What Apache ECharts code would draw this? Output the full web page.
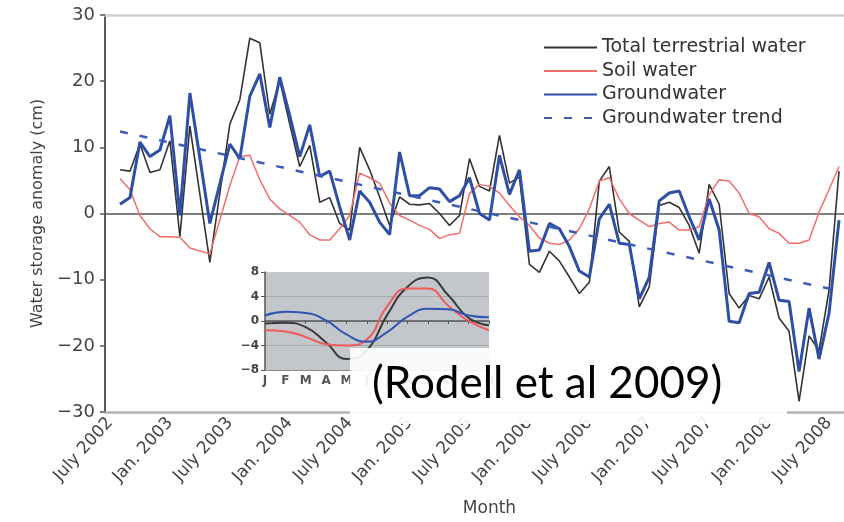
<!DOCTYPE html>
<html>
<head>
<meta charset="utf-8">
<title>Water storage anomaly</title>
<script src="https://cdn.jsdelivr.net/npm/echarts@6/dist/echarts.min.js"></script>
<style>
html, body { margin: 0; padding: 0; background: #fff; }
#main { width: 844px; height: 522px; }
</style>
</head>
<body>
<div id="main"></div>
<script>
// months July 2002 .. Aug 2008 (one band per month)
var monthAbbr = ['Jan','Feb','Mar','Apr','May','Jun','Jul','Aug','Sep','Oct','Nov','Dec'];
var months = [];
for (var yr = 2002; yr <= 2008; yr++) {
    for (var k = 0; k < 12; k++) {
        if ((yr === 2002 && k < 6) || (yr === 2008 && k > 7)) continue;
        months.push(monthAbbr[k] + ' ' + yr);
    }
}
var tickLabels = ['July 2002','Jan. 2003','July 2003','Jan. 2004','July 2004','Jan. 2005','July 2005',
                  'Jan. 2006','July 2006','Jan. 2007','July 2007','Jan. 2008','July 2008'];

// anomalies in cm (null = no value for that month)
var totalWater = [null, 6.6, 6.4, 10.5, 6.2, 6.6, 11.0, -3.5, 13.2, null, -7.4, null, 13.5, 17.2, 26.5, 25.8,
    15.0, 20.1, 13.5, 7.1, 10.3, 1.7, 2.4, -1.5, -2.5, 10.0, 6.6, 2.5, -1.8, 2.5, 1.4, 1.3, 1.5, 0.0, -1.8,
    -0.3, 8.3, 4.1, 3.4, 11.8, 4.6, 5.5, -7.7, -8.9, -5.7, -7.2, -9.6, -12.1, -10.4, 4.9, 7.1, -2.8, -4.2,
    -14.1, -11.1, 1.2, 1.7, 0.9, -1.8, -6.0, 4.4, 1.4, -12.1, -14.3, -12.4, -12.9, -9.6, -15.8, -17.8,
    -28.4, -18.5, -20.7, -11.6, 6.4];
var soilWater = [null, 5.3, 3.6, -0.3, -2.3, -3.5, -3.5, -3.6, -5.2, null, -6.1, null, 4.2, 8.6, 8.8, 5.1,
    2.2, 0.7, -0.3, -1.3, -3.2, -4.0, -4.0, -2.3, -0.3, 6.1, 5.4, 4.6, 1.6, -0.3, -1.0, -1.8, -2.4, -3.8,
    -3.2, -3.0, 3.0, 4.4, 4.1, 3.1, 1.2, -0.5, -1.8, -3.7, -4.5, -4.7, -4.0, -2.3, 0.7, 4.9, 5.4, 2.2, 0.0,
    -1.0, -2.0, -1.5, -1.3, -2.5, -2.5, -2.0, 2.9, 5.1, 4.9, 3.1, 0.0, -0.5, -2.3, -3.0, -4.5, -4.5, -4.0,
    0.2, 3.6, 7.1];
var groundwater = [null, 1.4, 2.4, 10.8, 8.6, 9.6, 14.8, -0.3, 18.2, null, -1.5, null, 10.5, 8.3, 17.7, 21.1,
    13.0, 20.6, 14.8, 8.6, 13.4, 5.6, 6.4, 1.0, -4.0, 3.4, 1.7, -1.3, -3.2, 9.3, 2.7, 2.7, 3.9, 3.7, 1.8,
    2.7, 5.4, 0.0, -1.0, 8.8, 2.9, 6.6, -5.7, -5.5, -1.5, -2.3, -5.0, -8.7, -9.6, -0.8, 1.4, -4.5, -4.7,
    -12.9, -9.6, 1.9, 3.1, 3.4, -0.5, -4.0, 2.2, -2.5, -16.3, -16.5, -12.1, -11.9, -7.4, -13.1, -13.3,
    -23.9, -14.3, -22.0, -15.1, -1.0];
var trendMonths = ['Aug 2002', 'Aug 2008'];
var trendValues = [12.4, -11.7];

// inset: mean seasonal cycle
var insetMonths = ['J','F','M','A','M','J','J','A','S','O','N','D'];
var insetTotal  = [-0.4, -0.3, -1.0, -3.5, -6.2, -4.8, 1.0, 5.6, 7.1, 4.2, 0.5, -0.7];
var insetSoil   = [-1.5, -1.7, -2.6, -3.8, -4.0, -3.0, 2.4, 5.3, 5.3, 2.5, 0.0, -1.5];
var insetGround = [0.9, 1.5, 1.3, 0.1, -2.2, -3.4, -1.8, 0.7, 2.0, 1.9, 0.9, 0.6];

var minus = function (v) { return String(v).replace('-', '\u2212'); };
var every6 = function (i) { return i % 6 === 0; };

var option = {
    animation: false,
    backgroundColor: '#fff',
    textStyle: { fontFamily: 'DejaVu Sans' },
    legend: {
        data: ['Total terrestrial water', 'Soil water', 'Groundwater', 'Groundwater trend'],
        orient: 'vertical',
        left: 543,
        top: 38,
        padding: 0,
        itemWidth: 53,
        itemHeight: 12,
        itemGap: 4.5,
        selectedMode: false,
        itemStyle: { opacity: 0 },
        textStyle: { fontSize: 19, lineHeight: 18, color: '#333' }
    },
    grid: [
        { left: 105, top: 15, right: 0, bottom: 100 },
        { left: 265, top: 272, width: 224, height: 98, show: true, backgroundColor: '#c3c6ca', borderWidth: 0 }
    ],
    xAxis: [
        {
            type: 'category', gridIndex: 0, data: months, position: 'bottom',
            axisLine: { onZero: false, lineStyle: { color: '#b3b3b3', width: 2.5 } },
            axisTick: { show: false },
            axisLabel: {
                interval: every6, rotate: 48, fontSize: 17, color: '#444', margin: 8,
                formatter: function (v, i) { return tickLabels[i / 6]; }
            },
            name: 'Month', nameLocation: 'middle', nameGap: 88,
            nameTextStyle: { fontSize: 17, color: '#444', padding: [0, 0, 0, 30] }
        },
        {
            type: 'category', gridIndex: 0, data: months, position: 'bottom',
            axisLine: { onZero: true, lineStyle: { color: '#555', width: 1.5 } },
            axisTick: { interval: every6, length: 4, lineStyle: { color: '#555', width: 1.2 } },
            axisLabel: { show: false }
        },
        {
            type: 'category', gridIndex: 0, data: months, position: 'top',
            axisLine: { onZero: false, lineStyle: { color: '#cfcfcf', width: 2.5 } },
            axisTick: { show: false },
            axisLabel: { show: false }
        },
        {
            type: 'category', gridIndex: 1, data: insetMonths, boundaryGap: false, position: 'bottom',
            axisLine: { onZero: false, lineStyle: { color: '#888', width: 1 } },
            axisTick: { show: false },
            axisLabel: { interval: 0, fontSize: 12, fontWeight: 'bold', color: '#555', margin: 5 }
        },
        {
            type: 'category', gridIndex: 1, data: insetMonths, boundaryGap: false, position: 'bottom',
            axisLine: { onZero: true, lineStyle: { color: '#555', width: 1.5 } },
            axisTick: { interval: 0, length: 3, lineStyle: { color: '#555' } },
            axisLabel: { show: false }
        }
    ],
    yAxis: [
        {
            type: 'value', gridIndex: 0, min: -30, max: 30, interval: 10,
            axisLine: { show: true, lineStyle: { color: '#5a5a5a', width: 2 } },
            axisTick: { show: true, length: 5, lineStyle: { color: '#5a5a5a', width: 1.5 } },
            axisLabel: { fontSize: 18, color: '#444', margin: 10, formatter: minus },
            splitLine: { show: false },
            name: 'Water storage anomaly (cm)', nameLocation: 'middle', nameGap: 58,
            nameTextStyle: { fontSize: 16, color: '#444' }
        },
        {
            type: 'value', gridIndex: 1, min: -8, max: 8, interval: 4,
            axisLine: { show: true, lineStyle: { color: '#555', width: 1.5 } },
            axisTick: { show: true, length: 4, lineStyle: { color: '#555' } },
            axisLabel: { fontSize: 12, fontWeight: 'bold', color: '#444', margin: 6, formatter: minus },
            splitLine: { show: true, showMinLine: false, showMaxLine: false, lineStyle: { color: '#a6a9ad', width: 1 } }
        }
    ],
    series: [
        {
            name: 'Total terrestrial water', type: 'line', xAxisIndex: 0, yAxisIndex: 0,
            data: totalWater, symbol: 'none', connectNulls: true,
            lineStyle: { color: '#333', width: 1.6 }, itemStyle: { color: '#333' }
        },
        {
            name: 'Soil water', type: 'line', xAxisIndex: 0, yAxisIndex: 0,
            data: soilWater, symbol: 'none', connectNulls: true,
            lineStyle: { color: '#f36c6c', width: 1.5 }, itemStyle: { color: '#f36c6c' }
        },
        {
            name: 'Groundwater', type: 'line', xAxisIndex: 0, yAxisIndex: 0,
            data: groundwater, symbol: 'none', connectNulls: true,
            lineStyle: { color: '#2f4fa6', width: 3 }, itemStyle: { color: '#2f4fa6' }
        },
        {
            name: 'Groundwater trend', type: 'line', xAxisIndex: 0, yAxisIndex: 0,
            data: trendMonths.map(function (m, i) { return [m, trendValues[i]]; }),
            symbol: 'none',
            lineStyle: { color: '#3b5cb8', width: 2.5, type: [8, 12] }, itemStyle: { color: '#3b5cb8' }
        },
        {
            name: 'inset total', type: 'line', xAxisIndex: 3, yAxisIndex: 1,
            data: insetTotal, symbol: 'none', smooth: 0.5,
            lineStyle: { color: '#3a3a3a', width: 2 }
        },
        {
            name: 'inset soil', type: 'line', xAxisIndex: 3, yAxisIndex: 1,
            data: insetSoil, symbol: 'none', smooth: 0.5,
            lineStyle: { color: '#f05a5a', width: 2 }
        },
        {
            name: 'inset ground', type: 'line', xAxisIndex: 3, yAxisIndex: 1,
            data: insetGround, symbol: 'none', smooth: 0.5,
            lineStyle: { color: '#2f55b5', width: 2 }
        }
    ],
    graphic: [
        {
            type: 'rect', left: 350, top: 348, z: 100,
            shape: { width: 437, height: 76 },
            style: { fill: 'rgba(255,255,255,0.9)' }
        },
        {
            type: 'text', left: 372, top: 362, z: 101,
            style: { text: '(Rodell et al 2009)', font: '44px Lato', fill: '#000' }
        }
    ]
};

var myChart = echarts.init(document.getElementById('main'));
myChart.setOption(option);
</script>
</body>
</html>
